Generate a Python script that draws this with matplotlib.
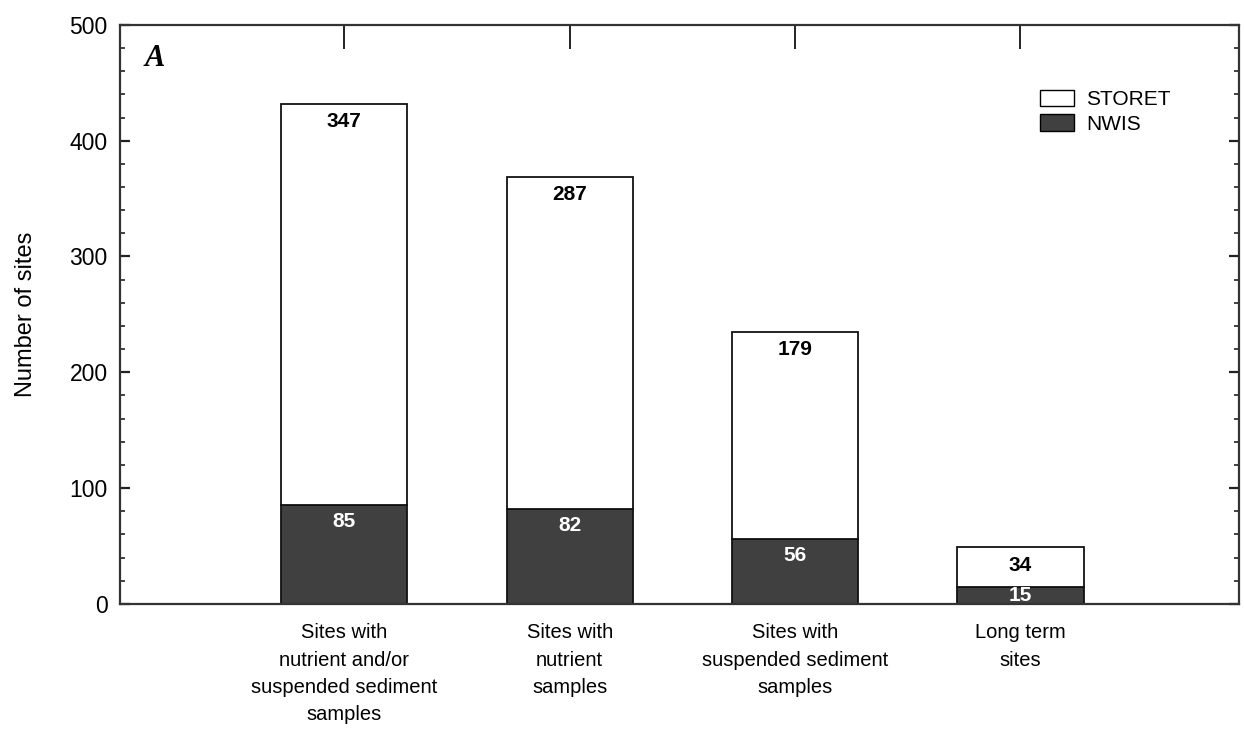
import matplotlib
matplotlib.use("Agg")
import matplotlib.pyplot as plt
from matplotlib.ticker import MultipleLocator
from matplotlib.patches import Patch

categories = ["Sites with\nnutrient and/or\nsuspended sediment\nsamples",
              "Sites with\nnutrient\nsamples",
              "Sites with\nsuspended sediment\nsamples",
              "Long term\nsites"]
nwis = [85, 82, 56, 15]
storet = [347, 287, 179, 34]

plt.rcParams['font.family'] = ['Liberation Sans', 'DejaVu Sans']

fig = plt.figure(figsize=(12.44, 7.32), dpi=100)
ax = fig.add_axes([0.0965, 0.175, 0.8995, 0.791])

x = list(range(len(categories)))
w = 0.56
dark = '#404040'
ax.bar(x, nwis, width=w, color=dark, edgecolor='#111111', linewidth=1.3, zorder=2)
ax.bar(x, storet, width=w, bottom=nwis, color='white', edgecolor='#111111', linewidth=1.3, zorder=2)

off = 14
for i in x:
    b = nwis[i]
    t = nwis[i] + storet[i]
    yn = max(b - off, b / 2)
    ys = max(t - off - 1.5, b + storet[i] / 2)
    ax.text(i, yn, str(nwis[i]), ha='center', va='center', color='white',
            fontsize=15, fontweight='bold', zorder=3)
    ax.text(i, ys, str(storet[i]), ha='center', va='center', color='black',
            fontsize=15, fontweight='bold', zorder=3)

ax.set_xlim(-0.995, 3.97)
ax.set_ylim(0, 500)
ax.yaxis.set_major_locator(MultipleLocator(100))
ax.yaxis.set_minor_locator(MultipleLocator(20))
ax.tick_params(axis='y', which='major', direction='in', length=7, width=1.6, right=True,
               labelsize=16.5, pad=9, color='#222222')
ax.tick_params(axis='y', which='minor', direction='in', length=3.5, width=1.2, right=True, color='#222222')

ax.set_xticks(x)
ax.set_xticklabels(categories, fontsize=14.5, linespacing=1.55)
ax.tick_params(axis='x', which='both', bottom=False, top=True, direction='in', length=17,
               width=1.4, labelsize=14.5, pad=14, color='#222222')

for s in ax.spines.values():
    s.set_linewidth(1.6)
    s.set_color('#333333')

ax.set_ylabel("Number of sites", fontsize=17, labelpad=23)

ax.text(0.022, 0.942, "A", transform=ax.transAxes, fontsize=22, fontweight='bold', fontstyle='italic',
        family=['Liberation Serif', 'DejaVu Serif'], ha='left', va='center')

handles = [Patch(facecolor='white', edgecolor='black', label='STORET'),
           Patch(facecolor=dark, edgecolor='black', label='NWIS')]
ax.legend(handles=handles, loc='upper left', bbox_to_anchor=(0.8225, 0.888), frameon=False,
          fontsize=15, handlelength=1.6, handleheight=0.85, labelspacing=0.25, handletextpad=0.6,
          borderaxespad=0, borderpad=0)

fig.savefig("out.png", dpi=100)
